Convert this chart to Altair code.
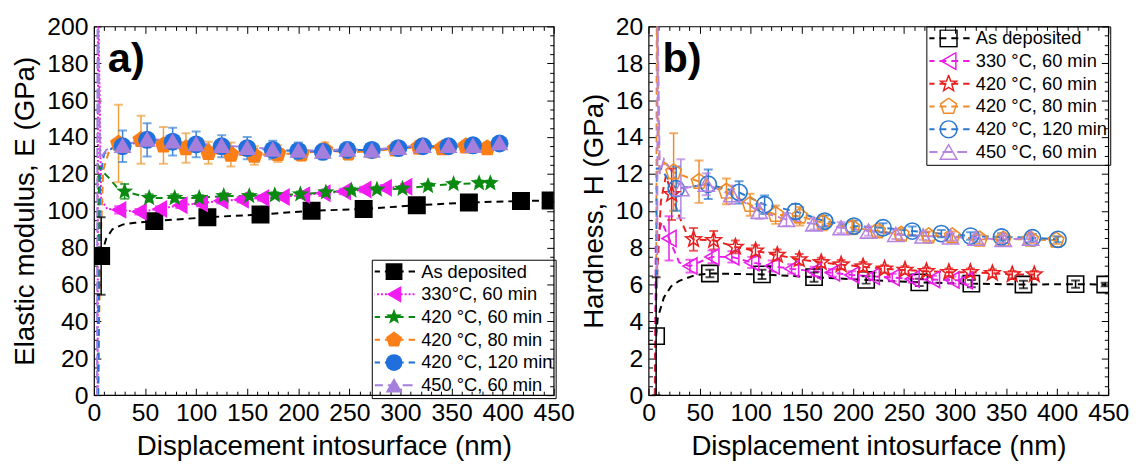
import altair as alt
import pandas as pd

FONT = "Liberation Sans"

# ---------------- panel a) : elastic modulus ----------------
A_NAMES = ["As deposited", "330°C, 60 min", "420 °C, 60 min", "420 °C, 80 min",
           "420 °C, 120 min", "450 °C, 60 min"]

a_dep_x = [7, 59, 111, 163, 213, 264, 316, 367, 418, 447]
a_dep_y = [75.5, 94.4, 96.5, 98, 100, 101, 103, 104.5, 105.3, 105.6]
a_dep_e = [21, 1.5, 1.2, 1.2, 1, 1, 1, 1, 1, 1]
a_dep_lx = [12, 18, 28, 40]
a_dep_ly = [85, 90, 92.5, 93.5]

a_330_x = [24, 44, 64, 84, 104, 124, 144, 164, 184, 204, 224, 244, 264, 284, 304]
a_330_y = [100.5, 99.5, 101, 103, 104, 105.5, 106, 107, 107.5, 108.5, 109.5, 110.5, 111.5, 112.5, 113]
a_330_e = [2, 1.5, 1.5, 1.5, 1.5, 1.5, 1.5, 1.5, 1.5, 1.5, 1.5, 1.5, 1.5, 1.5, 1.5]
a_330_lx = [3.5, 4, 7, 13]
a_330_ly = [0, 220, 106, 101]

a_420a_x = [30, 54, 79, 103, 127, 152, 177, 202, 227, 252, 277, 302, 327, 352, 377, 388]
a_420a_y = [110.5, 107, 107, 107, 108, 108, 108.5, 109, 110, 111, 111.5, 112, 113.5, 114.5, 115, 115]
a_420a_e = [4, 2, 2, 1.5, 1.5, 1.5, 1.5, 1.5, 1.5, 1.5, 1.5, 1.5, 1.5, 1.5, 1.5, 1.5]
a_420a_lx = [4, 5, 9, 16, 22]
a_420a_ly = [0, 124, 121, 117, 113]

a_420b_x = [24, 46, 68, 90, 112, 134, 157, 180, 203, 226, 249, 272, 295, 318, 341, 364, 385]
a_420b_y = [136.5, 138.5, 135.5, 134, 131.5, 130.5, 130, 131, 131, 133, 131.5, 132.5, 133.5,
            134.5, 134, 135, 134]
a_420b_e = [21, 13, 10, 8, 6, 6.5, 5, 4.5, 4, 4, 4, 3.5, 3.5, 3.5, 3, 3, 3]
a_420b_lx = [4, 6, 9, 15, 405]
a_420b_ly = [0, 75, 122, 133, 134.5]

a_420c_x = [28, 52, 77, 100, 125, 150, 175, 200, 224, 248, 272, 298, 322, 347, 371, 397]
a_420c_y = [135, 138.5, 137.5, 136, 135, 134, 133, 132.5, 132, 133, 133, 134, 135, 135, 135.5, 136.5]
a_420c_e = [8.5, 9, 7.5, 7, 6, 6, 5, 4.5, 4, 4, 3.5, 3, 3, 3, 2.5, 2.5]
a_420c_lx = [4, 6, 10, 18]
a_420c_ly = [0, 118, 131, 134]

a_450_x = [28, 52, 77, 100, 125, 150, 175, 200, 224, 248, 272, 298, 322, 347, 371, 397]
a_450_y = [135.5, 139, 138, 136.5, 135.5, 134.5, 133.5, 133, 132.5, 133.5, 133, 134.5, 135.5,
           135.5, 135.5, 137]
a_450_e = [1.5] * 16
a_450_lx = [3, 3.5, 6, 12, 20, 405]
a_450_ly = [0, 220, 128, 133, 135, 135]

# ---------------- panel b) : hardness ----------------
B_NAMES = ["As deposited", "330 °C, 60 min", "420 °C, 60 min", "420 °C, 80 min",
           "420 °C, 120 min", "450 °C, 60 min"]

b_dep_x = [7.4, 60, 111, 162, 213, 265, 316, 367, 418, 447]
b_dep_y = [3.2, 6.6, 6.55, 6.4, 6.25, 6.12, 6.05, 6.0, 6.02, 6.0]
b_dep_e = [3.2, 0.2, 0.25, 0.25, 0.2, 0.2, 0.2, 0.2, 0.2, 0.1]
b_dep_lx = [9, 15, 22, 30, 45]
b_dep_ly = [4.2, 5.3, 5.9, 6.2, 6.5]

b_330_x = [20, 40.5, 62, 81.5, 101, 121, 140, 162, 180, 199, 219, 238.5, 258, 278, 297, 310]
b_330_y = [8.5, 7.0, 7.5, 7.5, 7.2, 7.0, 6.85, 6.72, 6.64, 6.52, 6.45, 6.38, 6.3, 6.27, 6.24, 6.22]
b_330_e = [1.2, 0.35, 0.35, 0.3, 0.3, 0.3, 0.25, 0.25, 0.2, 0.2, 0.2, 0.2, 0.2, 0.2, 0.2, 0.2]
b_330_lx = [6.5, 7, 13, 30]
b_330_ly = [0, 8.3, 9.4, 7.2]

b_420a_x = [22.6, 44, 63.7, 85, 104.7, 126, 147.5, 169, 188.5, 210, 231, 251, 272, 294, 315,
            336.6, 356, 377.6]
b_420a_y = [10.9, 8.45, 8.4, 8.04, 7.83, 7.6, 7.36, 7.2, 7.08, 6.97, 6.85, 6.79, 6.72, 6.67,
            6.67, 6.61, 6.54, 6.54]
b_420a_e = [1.4, 0.62, 0.5, 0.35, 0.3, 0.3, 0.3, 0.25, 0.25, 0.25, 0.2, 0.2, 0.2, 0.2, 0.2,
            0.2, 0.2, 0.2]
b_420a_lx = [6, 7, 12, 17, 30, 37]
b_420a_ly = [0, 4.8, 10.5, 11.9, 9.7, 8.8]

b_420b_x = [24.5, 49.4, 76.2, 99.4, 124.4, 148, 170.7, 199.3, 224.2, 247.4, 274.2, 297.3,
            324.1, 347.2, 374, 399]
b_420b_y = [12.1, 11.58, 11.05, 10.33, 9.79, 9.7, 9.35, 9.08, 8.9, 8.72, 8.63, 8.63, 8.45,
            8.45, 8.45, 8.4]
b_420b_e = [2.1, 1.15, 0.7, 0.6, 0.5, 0.5, 0.4, 0.35, 0.3, 0.3, 0.25, 0.25, 0.25, 0.2, 0.2, 0.2]
b_420b_lx = [7.5, 8, 10.5, 16]
b_420b_ly = [6, 20.5, 12.2, 12.6]

b_420c_x = [27, 58.4, 88.6, 113.6, 143.9, 172.4, 201, 229.5, 258.1, 286.6, 315.2, 345.5,
            375.8, 400.8]
b_420c_y = [11.2, 11.44, 11.0, 10.33, 9.97, 9.44, 9.17, 9.08, 8.9, 8.76, 8.63, 8.58, 8.54, 8.45]
b_420c_e = [1.2, 0.8, 0.6, 0.5, 0.4, 0.3, 0.3, 0.25, 0.25, 0.2, 0.2, 0.2, 0.2, 0.15]
b_420c_lx = [7, 8, 12, 18]
b_420c_ly = [0, 12.3, 12.3, 11.8]

b_450_x = [31.6, 56.5, 81.5, 108.3, 135, 161.8, 188.5, 215.3, 242, 268.8, 295.6, 320.5,
           347.2, 374]
b_450_y = [11.2, 11.44, 10.87, 9.97, 9.53, 9.29, 9.08, 8.9, 8.72, 8.63, 8.58, 8.51, 8.45, 8.51]
b_450_e = [1.6, 0.6, 0.5, 0.4, 0.35, 0.3, 0.3, 0.25, 0.25, 0.2, 0.2, 0.2, 0.2, 0.2]
b_450_lx = [8.5, 8.8, 11, 15, 22]
b_450_ly = [6, 20.5, 12, 12.8, 12.2]

# axis tick values
X_MAJOR = [0, 50, 100, 150, 200, 250, 300, 350, 400, 450]
X_MINOR = [v for v in range(0, 451, 10) if v % 50]
A_Y_MAJOR = list(range(0, 201, 20))
A_Y_MINOR = [v for v in range(0, 201, 5) if v % 20]
B_Y_MAJOR = list(range(0, 21, 2))
B_Y_MINOR = [v / 2 for v in range(0, 41) if v % 4]

# styles
STAR = ("M0,-1L0.247,-0.34L0.951,-0.309L0.399,0.13L0.588,0.809L0,0.42L-0.588,0.809"
        "L-0.399,0.13L-0.951,-0.309L-0.247,-0.34Z")
PENT = "M0,-1L0.951,-0.309L0.588,0.809L-0.588,0.809L-0.951,-0.309Z"
SHAPES = ["square", "triangle-left", STAR, PENT, "circle", "triangle-up"]
LEG_LINE = "M-2.5,0L2.5,0"

A_COLORS = ["#000000", "#f21cf2", "#0b8a12", "#fb7f16", "#1f6fdc", "#a47fdc"]
A_ERR = ["#000000", "#f21cf2", "#0b8a12", "#f0a040", "#3b84d6", "#a47fdc"]
A_DASH = [[7, 5], [2, 2], [7, 5], [7, 5], [7, 5], [10, 5]]
B_COLORS = ["#000000", "#e81ee8", "#e82020", "#f08c28", "#2878d0", "#b584e0"]
B_ERR = B_COLORS
B_DASH = [[7, 5], [7, 5], [7, 5], [7, 5], [7, 5], [10, 5]]


def frames(names, xs, ys, es, lxs, lys):
    m_rows, l_rows = [], []
    for i, n in enumerate(names):
        for x, y, e in zip(xs[i], ys[i], es[i]):
            m_rows.append(dict(series=n, ekey=n + " err", x=x, y=y, lo=y - e, hi=y + e))
        pts = sorted(list(zip(lxs[i], lys[i])) + list(zip(xs[i], ys[i])))
        for k, (x, y) in enumerate(pts):
            l_rows.append(dict(dkey=n + " line", x=x, y=y, k=k))
    return pd.DataFrame(m_rows), pd.DataFrame(l_rows)


a_mk, a_ln = frames(
    A_NAMES,
    [a_dep_x, a_330_x, a_420a_x, a_420b_x, a_420c_x, a_450_x],
    [a_dep_y, a_330_y, a_420a_y, a_420b_y, a_420c_y, a_450_y],
    [a_dep_e, a_330_e, a_420a_e, a_420b_e, a_420c_e, a_450_e],
    [a_dep_lx, a_330_lx, a_420a_lx, a_420b_lx, a_420c_lx, a_450_lx],
    [a_dep_ly, a_330_ly, a_420a_ly, a_420b_ly, a_420c_ly, a_450_ly])
b_mk, b_ln = frames(
    B_NAMES,
    [b_dep_x, b_330_x, b_420a_x, b_420b_x, b_420c_x, b_450_x],
    [b_dep_y, b_330_y, b_420a_y, b_420b_y, b_420c_y, b_450_y],
    [b_dep_e, b_330_e, b_420a_e, b_420b_e, b_420c_e, b_450_e],
    [b_dep_lx, b_330_lx, b_420a_lx, b_420b_lx, b_420c_lx, b_450_lx],
    [b_dep_ly, b_330_ly, b_420a_ly, b_420b_ly, b_420c_ly, b_450_ly])

W, H = 465, 373
TK, TKM = 7, 4
LEG_FS = 18.5
LEG_SYM = 289
LEG_ROW = 18


def axis(orient, values, size, labels, title=None):
    kw = dict(orient=orient, values=values, offset=-size, tickSize=size, tickColor="black",
              tickWidth=1, domain=False, grid=False, labels=labels)
    if labels:
        kw.update(labelFont=FONT, labelFontSize=25, labelColor="black", labelPadding=6,
                  labelFlush=False, labelOverlap=False)
    if title:
        kw.update(title=title, titleFont=FONT, titleFontSize=28, titleFontWeight="normal",
                  titleColor="black", titlePadding=7)
    return alt.Axis(**kw)


def legend(lgx, lgy, boxed, show_labels, symtype=None, sym_stroke=1.5):
    kw = dict(orient="none", legendX=lgx, legendY=lgy, title=None, padding=3, symbolOffset=10,
              labelOffset=18, labelFont=FONT, labelFontSize=LEG_FS, labelColor="black",
              symbolSize=LEG_SYM, symbolStrokeWidth=sym_stroke, rowPadding=4,
              clipHeight=LEG_ROW)
    if show_labels:
        kw.update(labelExpr="replace(datum.label, ' line', '')")
    else:
        kw.update(labelExpr="''")
    if boxed:
        kw.update(strokeColor="black")
    if symtype:
        kw.update(symbolType=symtype)
    return alt.Legend(**kw)


def panel(mk, ln, names, colors, errc, dashes, filled, psize, ymax, ymaj, ymin, ytitle,
          tag, lgx, lgy):
    xs = alt.Scale(domain=[0, 450], nice=False, zero=False)
    ys = alt.Scale(domain=[0, ymax], nice=False, zero=False)
    dkeys = [n + " line" for n in names]
    ekeys = [n + " err" for n in names]
    X = alt.X("x:Q", scale=xs, axis=None)

    leg_line = legend(lgx, lgy, True, True, LEG_LINE, 2)
    lines = alt.Chart(ln).mark_line(clip=True, strokeWidth=2).encode(
        x=X, y=alt.Y("y:Q", scale=ys, axis=None),
        stroke=alt.Stroke("dkey:N", scale=alt.Scale(domain=dkeys, range=colors), legend=leg_line),
        strokeDash=alt.StrokeDash("dkey:N", scale=alt.Scale(domain=dkeys, range=dashes),
                                  legend=leg_line),
        order=alt.Order("k:Q"))
    err = alt.Chart(mk).mark_rule(clip=True, strokeWidth=1.5).encode(
        x=X, y=alt.Y("lo:Q", scale=ys, axis=None), y2="hi:Q",
        stroke=alt.Stroke("ekey:N", scale=alt.Scale(domain=ekeys, range=errc), legend=None))
    cap_lo = alt.Chart(mk).mark_tick(orient="horizontal", size=9, thickness=2, clip=True).encode(
        x=X, y=alt.Y("lo:Q", scale=ys, axis=None),
        fill=alt.Fill("ekey:N", scale=alt.Scale(domain=ekeys, range=errc), legend=None))
    cap_hi = alt.Chart(mk).mark_tick(orient="horizontal", size=9, thickness=2, clip=True).encode(
        x=X, y=alt.Y("hi:Q", scale=ys, axis=None),
        fill=alt.Fill("ekey:N", scale=alt.Scale(domain=ekeys, range=errc), legend=None))

    leg_pts = legend(lgx, lgy, False, False)
    pts = alt.Chart(mk).mark_point(filled=filled, size=psize, opacity=1, strokeWidth=1.6,
                                   clip=True).encode(
        x=X, y=alt.Y("y:Q", scale=ys, axis=None),
        color=alt.Color("series:N", scale=alt.Scale(domain=names, range=colors), legend=leg_pts),
        shape=alt.Shape("series:N", scale=alt.Scale(domain=names, range=SHAPES), legend=leg_pts))

    base = alt.Chart(mk).mark_point(opacity=0)
    ax1 = base.encode(
        x=alt.X("x:Q", scale=xs, axis=axis("bottom", X_MAJOR, TK, True,
                                           "Displacement intosurface (nm)")),
        y=alt.Y("y:Q", scale=ys, axis=axis("left", ymaj, TK, True, ytitle)))
    ax2 = base.encode(
        x=alt.X("x:Q", scale=xs, axis=axis("bottom", X_MINOR, TKM, False), title=None),
        y=alt.Y("y:Q", scale=ys, axis=axis("left", ymin, TKM, False), title=None))
    ax3 = base.encode(
        x=alt.X("x:Q", scale=xs, axis=axis("top", X_MAJOR, TK, False), title=None),
        y=alt.Y("y:Q", scale=ys, axis=axis("right", ymaj, TK, False), title=None))
    ax4 = base.encode(
        x=alt.X("x:Q", scale=xs, axis=axis("top", X_MINOR, TKM, False), title=None),
        y=alt.Y("y:Q", scale=ys, axis=axis("right", ymin, TKM, False), title=None))

    tag_layer = alt.Chart(pd.DataFrame({"t": [tag]})).mark_text(
        font=FONT, fontSize=42, fontWeight="bold", align="left", baseline="alphabetic",
        color="black").encode(text="t:N", x=alt.value(14), y=alt.value(46))

    return alt.layer(lines, err, cap_lo, cap_hi, pts, ax1, ax2, ax3, ax4, tag_layer).resolve_axis(
        x="independent", y="independent").resolve_scale(
        stroke="independent", fill="independent", strokeDash="independent").properties(
        width=W, height=H)


pa = panel(a_mk, a_ln, A_NAMES, A_COLORS, A_ERR, A_DASH, True, 330, 200, A_Y_MAJOR,
           A_Y_MINOR, "Elastic modulus, E (GPa)", "a)", 281, 236)
pb = panel(b_mk, b_ln, B_NAMES, B_COLORS, B_ERR, B_DASH, False, 270, 20, B_Y_MAJOR,
           B_Y_MINOR, "Hardness, H (GPa)", "b)", 281, 0)

chart = alt.hconcat(pa, pb, spacing=4).resolve_scale(
    color="independent", shape="independent").resolve_legend(
    color="independent", shape="independent").properties(
    padding={"left": 3, "top": 3, "right": 0, "bottom": 0}).configure_view(
    stroke="black", strokeWidth=1.2)

chart.save("out.html", embed_options={"renderer": "svg", "actions": False})
